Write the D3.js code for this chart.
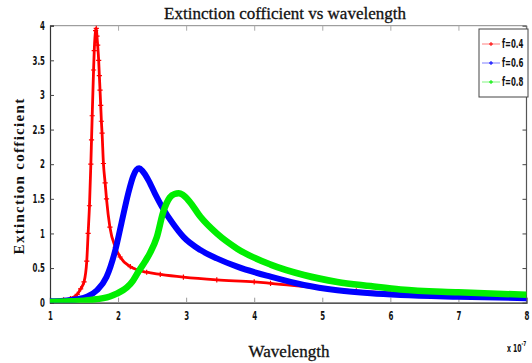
<!DOCTYPE html>
<html>
<head>
<meta charset="utf-8">
<script src="https://cdn.jsdelivr.net/npm/d3@7"></script>
<style>
  html, body { margin: 0; padding: 0; background: #fff; }
  svg { display: block; }
  .tick-label { font-family: 'Liberation Sans Narrow', 'DejaVu Sans Condensed', 'DejaVu Sans', sans-serif; font-weight: bold; font-size: 11.5px; fill: #111; }
  .serif { font-family: 'Liberation Serif', 'DejaVu Serif', serif; fill: #111; }
</style>
</head>
<body>
<svg id="chart" width="532" height="363"></svg>
<script>
// Wavelength (in units of 1e-7) and extinction coefficient for each filling fraction
const redX   = [1.0, 1.2, 1.3, 1.4, 1.45, 1.5, 1.54, 1.56, 1.58, 1.6, 1.61, 1.62, 1.64, 1.65, 1.67, 1.68, 1.69, 1.70, 1.715, 1.725, 1.735, 1.745, 1.755, 1.765, 1.785, 1.81, 1.83, 1.88, 1.96, 2.03, 2.18, 2.42, 2.62, 2.96, 3.45, 4.0, 4.24, 4.97, 5.5, 6.0, 7.0, 8.0];
const redY   = [0.03, 0.04, 0.06, 0.12, 0.2, 0.3, 0.6, 1.0, 1.4, 2.0, 2.35, 2.7, 3.36, 3.64, 3.93, 3.96, 3.85, 3.72, 3.5, 3.28, 3.07, 2.85, 2.62, 2.45, 2.01, 1.73, 1.5, 1.09, 0.8, 0.66, 0.52, 0.44, 0.41, 0.37, 0.33, 0.30, 0.28, 0.21, 0.17, 0.14, 0.11, 0.085];

const blueX  = [1.0, 1.2, 1.4, 1.55, 1.69, 1.83, 1.96, 2.05, 2.15, 2.22, 2.27, 2.31, 2.36, 2.44, 2.54, 2.66, 2.8, 2.96, 3.21, 3.45, 3.75, 4.24, 4.73, 5.22, 5.71, 6.15, 7.0, 8.0];
const blueY  = [0.02, 0.03, 0.05, 0.09, 0.18, 0.37, 0.76, 1.15, 1.58, 1.82, 1.92, 1.94, 1.9, 1.78, 1.58, 1.36, 1.15, 0.95, 0.76, 0.64, 0.52, 0.375, 0.255, 0.18, 0.135, 0.11, 0.085, 0.065];

const greenX = [1.0, 1.3, 1.6, 1.88, 1.98, 2.13, 2.22, 2.3, 2.4, 2.47, 2.57, 2.66, 2.76, 2.83, 2.89, 2.95, 3.05, 3.21, 3.45, 3.75, 4.24, 4.73, 5.22, 5.71, 6.15, 7.0, 8.0];
const greenY = [0.01, 0.02, 0.04, 0.09, 0.13, 0.22, 0.32, 0.45, 0.6, 0.72, 0.95, 1.3, 1.52, 1.57, 1.58, 1.56, 1.46, 1.24, 1.0, 0.78, 0.55, 0.40, 0.30, 0.24, 0.19, 0.15, 0.115];

const seriesNames  = ["f=0.4", "f=0.6", "f=0.8"];
const seriesColors = ["#ff0000", "#0000ff", "#00ee00"];
const xTicks = [1, 2, 3, 4, 5, 6, 7, 8];
const yTicks = [0, 0.5, 1, 1.5, 2, 2.5, 3, 3.5, 4];

const series = [
  { name: seriesNames[0], color: seriesColors[0], xs: redX, ys: redY, width: 2.8, markers: true },
  { name: seriesNames[1], color: seriesColors[1], xs: blueX, ys: blueY, width: 6, markers: false },
  { name: seriesNames[2], color: seriesColors[2], xs: greenX, ys: greenY, width: 6.5, markers: false }
];

const NARROW = 0.68; // horizontal squeeze for the condensed label face

const svg = d3.select("#chart");
const plot = { left: 50, right: 526.5, top: 25.7, bottom: 302.7 };

const x = d3.scaleLinear().domain([1, 8]).range([plot.left, plot.right]);
const y = d3.scaleLinear().domain([0, 4]).range([plot.bottom, plot.top]);

svg.append("defs").append("clipPath").attr("id", "plot-clip")
  .append("rect")
  .attr("x", plot.left).attr("y", plot.top - 4)
  .attr("width", plot.right - plot.left).attr("height", plot.bottom - plot.top + 4);

// Frame: top/right edges lighter, inward ticks on every side
svg.append("line").attr("x1", plot.left).attr("x2", plot.right).attr("y1", plot.top).attr("y2", plot.top)
  .attr("stroke", "#888").attr("stroke-width", 1);
svg.append("line").attr("x1", plot.right).attr("x2", plot.right).attr("y1", plot.top).attr("y2", plot.bottom)
  .attr("stroke", "#555").attr("stroke-width", 1.2);

const xBottom = d3.axisBottom(x).tickValues(xTicks).tickSize(-5).tickPadding(9).tickFormat(d3.format("d"));
const gxb = svg.append("g").attr("transform", `translate(0,${plot.bottom})`).call(xBottom);
gxb.select(".domain").attr("stroke", "#222").attr("stroke-width", 1.3);
gxb.selectAll(".tick line").attr("stroke", "#999");
gxb.selectAll(".tick text").attr("class", "tick-label").attr("font-family", null).attr("font-size", null)
  .attr("transform", `scale(${NARROW},1)`);

const xTop = d3.axisTop(x).tickValues(xTicks).tickSize(-5).tickFormat("");
const gxt = svg.append("g").attr("transform", `translate(0,${plot.top})`).call(xTop);
gxt.select(".domain").remove();
gxt.selectAll(".tick line").attr("stroke", "#aaa");

const yLeft = d3.axisLeft(y).tickValues(yTicks).tickSize(-4).tickPadding(5).tickFormat(d3.format("~g"));
const gyl = svg.append("g").attr("transform", `translate(${plot.left},0)`).call(yLeft);
gyl.select(".domain").attr("stroke", "#333").attr("stroke-width", 1.2);
gyl.selectAll(".tick line").attr("stroke", "#444");
gyl.selectAll(".tick text").attr("class", "tick-label").attr("font-family", null).attr("font-size", null)
  .attr("x", -5 / NARROW)
  .attr("transform", `scale(${NARROW},1)`);

const yRight = d3.axisRight(y).tickValues(yTicks).tickSize(-4).tickFormat("");
const gyr = svg.append("g").attr("transform", `translate(${plot.right},0)`).call(yRight);
gyr.select(".domain").remove();
gyr.selectAll(".tick line").attr("stroke", "#444");

// Curves
const line = d3.line().x(d => x(d[0])).y(d => y(d[1])).curve(d3.curveMonotoneX);
const curves = svg.append("g").attr("clip-path", "url(#plot-clip)");

series.forEach(s => {
  const pts = s.xs.map((v, i) => [v, s.ys[i]]);
  curves.append("path")
    .datum(pts)
    .attr("d", line)
    .attr("fill", "none")
    .attr("stroke", s.color)
    .attr("stroke-width", s.width)
    .attr("stroke-linejoin", "round")
    .attr("stroke-linecap", "round");
  if (s.markers) {
    const m = 2.6;
    curves.append("g").selectAll("path")
      .data(pts)
      .join("path")
      .attr("d", d => `M${x(d[0]) - m},${y(d[1])}h${2 * m}M${x(d[0])},${y(d[1]) - m}v${2 * m}`)
      .attr("stroke", s.color)
      .attr("stroke-width", 1.2)
      .attr("fill", "none");
  }
});

// Legend
const leg = svg.append("g");
leg.append("rect").attr("x", 479).attr("y", 29).attr("width", 49).attr("height", 68)
  .attr("fill", "#fff").attr("stroke", "#444").attr("stroke-width", 1);
series.forEach((s, i) => {
  const cy = 44 + i * 19;
  leg.append("line").attr("x1", 482).attr("x2", 500).attr("y1", cy).attr("y2", cy)
    .attr("stroke", s.color).attr("stroke-opacity", 0.5).attr("stroke-width", 1);
  leg.append("path").attr("d", `M${489},${cy}h4M${491},${cy - 2}v4`)
    .attr("stroke", s.color).attr("stroke-width", 1);
  leg.append("text").attr("class", "tick-label")
    .attr("transform", `translate(502,${cy + 4}) scale(${NARROW},1)`)
    .style("font-size", "11.5px").text(s.name);
});

// Titles
svg.append("text").attr("class", "serif").attr("x", 285).attr("y", 19)
  .attr("text-anchor", "middle").style("font-size", "17px")
  .attr("stroke", "#111").attr("stroke-width", 0.3)
  .text("Extinction cofficient vs wavelength");

svg.append("text").attr("class", "serif")
  .attr("transform", `translate(24,${176}) rotate(-90)`)
  .attr("text-anchor", "middle").style("font-size", "15px").style("font-weight", "bold")
  .style("letter-spacing", "1.3px")
  .text("Extinction cofficient");

svg.append("text").attr("class", "serif").attr("x", 289).attr("y", 357)
  .attr("text-anchor", "middle").style("font-size", "17px")
  .attr("stroke", "#111").attr("stroke-width", 0.3)
  .text("Wavelength");

// Exponent of the x axis
const ex = svg.append("text").attr("class", "tick-label")
  .attr("transform", `translate(507,352) scale(${NARROW},1)`)
  .style("font-size", "10px");
ex.append("tspan").text("x 10");
ex.append("tspan").attr("dy", -6).style("font-size", "7px").text("-7");
</script>
</body>
</html>
